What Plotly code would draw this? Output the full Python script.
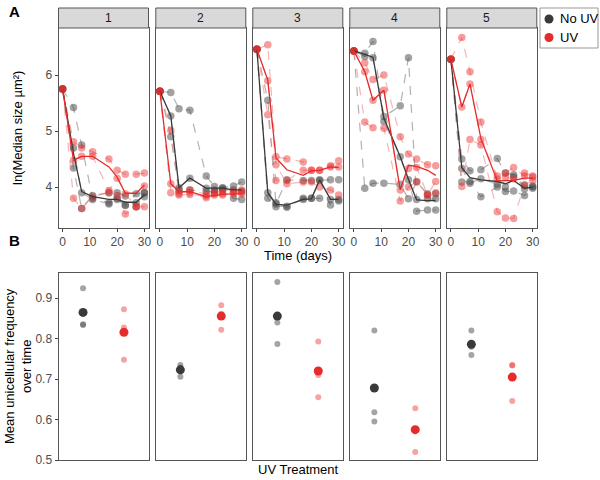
import plotly.graph_objects as go

W, H = 600, 480

days = [0, 4, 7, 11, 17, 20, 23, 27, 30]
panels = ["1", "2", "3", "4", "5"]

# ln(median size) per replicate, No UV
noUV_reps = [
    [[5.75, 5.42, 4.75, 3.80, 3.72, 3.80, 3.68, 3.88, 3.90],
     [5.75, 4.34, 3.62, 3.85, 3.90, 3.90, 3.84, 3.65, 3.83],
     [5.75, 4.70, 3.90, 3.78, 3.70, 3.78, 3.67, 3.72, 3.90]],
    [[5.71, 5.69, 5.40, 5.37, 4.20, 4.01, 3.99, 4.02, 4.09],
     [5.71, 5.27, 3.99, 4.16, 3.98, 3.95, 3.98, 3.80, 3.78],
     [5.71, 4.90, 3.95, 3.95, 3.92, 3.92, 3.95, 3.95, 3.93]],
    [[6.46, 5.55, 3.70, 4.13, 4.12, 4.12, 4.12, 4.13, 4.13],
     [6.46, 3.90, 3.72, 3.64, 3.80, 3.80, 4.13, 3.68, 3.75],
     [6.46, 3.80, 3.65, 3.66, 3.78, 3.80, 3.80, 3.78, 3.78]],
    [[6.43, 6.39, 6.60, 5.26, 5.45, 6.31, 3.78, 3.79, 3.79],
     [6.43, 6.33, 6.31, 5.17, 4.54, 4.13, 3.57, 3.59, 3.59],
     [6.43, 3.98, 4.07, 4.07, 4.05, 3.79, 4.09, 3.88, 3.88]],
    [[6.28, 4.50, 4.29, 4.31, 4.51, 4.25, 4.22, 3.97, 4.00],
     [6.28, 4.33, 4.07, 4.15, 4.05, 3.92, 3.93, 3.85, 4.02],
     [6.28, 4.09, 4.10, 3.83, 4.00, 4.00, 4.18, 4.03, 3.98]],
]
# ln(median size) per replicate, UV
uv_reps = [
    [[5.75, 4.81, 4.70, 4.63, 4.50, 4.30, 4.23, 4.23, 4.25],
     [5.75, 4.48, 4.55, 4.55, 3.94, 4.16, 3.88, 3.65, 4.02],
     [5.75, 3.80, 3.62, 3.83, 3.90, 3.85, 3.52, 3.65, 3.65]],
    [[5.71, 5.01, 3.88, 3.95, 3.87, 3.90, 3.93, 3.91, 3.95],
     [5.71, 4.06, 3.92, 3.90, 3.81, 3.86, 3.88, 3.88, 3.91],
     [5.71, 3.90, 3.86, 3.87, 3.84, 3.88, 3.86, 3.92, 3.88]],
    [[6.46, 6.54, 4.54, 4.50, 4.45, 4.30, 4.30, 4.38, 4.47],
     [6.46, 5.29, 4.12, 4.12, 4.30, 4.30, 4.30, 4.36, 4.36],
     [6.46, 5.90, 4.40, 4.06, 4.09, 4.09, 4.00, 3.95, 3.86]],
    [[6.43, 6.22, 5.92, 6.00, 4.90, 4.59, 4.50, 4.40, 4.38],
     [6.43, 6.06, 5.55, 5.73, 3.95, 4.33, 4.35, 3.86, 3.90],
     [6.43, 5.16, 5.06, 5.05, 3.75, 4.00, 4.10, 3.86, 4.10]],
    [[6.28, 6.67, 6.06, 5.16, 4.14, 4.25, 4.35, 4.20, 4.18],
     [6.28, 5.43, 5.84, 4.85, 4.20, 4.18, 4.15, 4.25, 4.20],
     [6.28, 4.01, 4.85, 4.75, 3.56, 3.45, 3.44, 4.04, 4.12]],
]
noUV_mean = [
    [5.75, 4.60, 3.92, 3.83, 3.78, 3.78, 3.73, 3.73, 3.86],
    [5.71, 5.27, 3.99, 4.16, 3.98, 3.98, 3.98, 3.95, 3.95],
    [6.46, 3.90, 3.69, 3.68, 3.78, 3.79, 4.13, 3.78, 3.78],
    [6.43, 6.36, 6.32, 5.23, 4.54, 4.14, 3.77, 3.76, 3.76],
    [6.28, 4.35, 4.17, 4.13, 4.10, 4.06, 4.12, 3.98, 4.00],
]
uv_mean = [
    [5.75, 4.48, 4.55, 4.55, 4.36, 4.18, 3.89, 3.89, 4.04],
    [5.71, 4.06, 3.92, 3.92, 3.83, 3.85, 3.87, 3.88, 3.88],
    [6.46, 5.91, 4.52, 4.31, 4.21, 4.29, 4.30, 4.36, 4.35],
    [6.43, 6.06, 5.55, 5.73, 3.95, 4.39, 4.37, 4.30, 4.21],
    [6.28, 5.43, 5.84, 4.87, 4.11, 4.11, 4.12, 4.16, 4.16],
]

# Panel B: mean unicellular frequency over time
treatments = ["No UV", "UV"]
freq_noUV_reps = [[0.925, 0.836, 0.834], [0.735, 0.728, 0.706], [0.940, 0.840, 0.787],
                  [0.820, 0.618, 0.595], [0.820, 0.780, 0.760]]
freq_uv_reps = [[0.873, 0.828, 0.748], [0.883, 0.861, 0.822], [0.793, 0.710, 0.655],
                [0.628, 0.577, 0.520], [0.735, 0.734, 0.646]]
freq_noUV_mean = [0.865, 0.723, 0.856, 0.678, 0.786]
freq_uv_mean = [0.816, 0.856, 0.720, 0.575, 0.705]

FONT = "Liberation Sans, Arial, sans-serif"
GREY_PT = "rgba(70,70,70,0.5)"
GREY_LN = "rgba(165,165,165,0.85)"
RED_PT = "rgba(236,40,40,0.45)"
RED_LN = "rgba(240,120,120,0.55)"
GREY_MEAN = "#3a3a3a"
RED_MEAN = "#e52b2b"


def px(x):
    return x / W


def py(y):
    return 1 - y / H


lefts = [58.5, 155.8, 252.8, 349.8, 446.8]
pw = 90
A_top, A_bot = 28, 228
B_top, B_bot = 273, 460

fig = go.Figure()
layout = {}

for i in range(5):
    n = i + 1
    xa = "x" if n == 1 else f"x{n}"
    ya = "y" if n == 1 else f"y{n}"
    # replicates
    for reps, pc, lc in [(noUV_reps[i], GREY_PT, GREY_LN), (uv_reps[i], RED_PT, RED_LN)]:
        for r in reps:
            fig.add_trace(go.Scatter(
                x=days, y=r, xaxis=xa, yaxis=ya, mode="lines+markers",
                line=dict(color=lc, width=1.2, dash="dash"),
                marker=dict(color=pc, size=7.5, line=dict(width=0)),
                showlegend=False, hoverinfo="skip"))
    for m, c in [(noUV_mean[i], GREY_MEAN), (uv_mean[i], RED_MEAN)]:
        fig.add_trace(go.Scatter(
            x=days, y=m, xaxis=xa, yaxis=ya, mode="lines",
            line=dict(color=c, width=1.3), showlegend=False, hoverinfo="skip"))

    dom_x = [px(lefts[i]), px(lefts[i] + pw)]
    layout["xaxis" if n == 1 else f"xaxis{n}"] = dict(
        domain=dom_x, anchor=ya, range=[-1.5, 31.5], tickvals=[0, 10, 20, 30],
        ticks="outside", ticklen=3, tickcolor="#444", showgrid=False, zeroline=False,
        showline=True, mirror=True, linecolor="#555", linewidth=1, automargin=False,
        tickfont=dict(size=12, color="#4d4d4d", family=FONT))
    layout["yaxis" if n == 1 else f"yaxis{n}"] = dict(
        domain=[py(A_bot), py(A_top)], anchor=xa, range=[3.27, 6.84],
        tickvals=[4, 5, 6], ticks="outside" if n == 1 else "", ticklen=3, tickcolor="#444",
        showticklabels=(n == 1), showgrid=False, zeroline=False, automargin=False,
        showline=True, mirror=True, linecolor="#555", linewidth=1,
        tickfont=dict(size=12, color="#4d4d4d", family=FONT))

    # Panel B
    nb = n + 5
    xb = f"x{nb}"
    yb = f"y{nb}"
    fig.add_trace(go.Scatter(
        x=[1] * len(freq_noUV_reps[i]), y=freq_noUV_reps[i], xaxis=xb, yaxis=yb, mode="markers",
        marker=dict(color="rgba(90,90,90,0.55)", size=6, line=dict(width=0)),
        showlegend=False, hoverinfo="skip"))
    fig.add_trace(go.Scatter(
        x=[2] * len(freq_uv_reps[i]), y=freq_uv_reps[i], xaxis=xb, yaxis=yb, mode="markers",
        marker=dict(color="rgba(236,50,50,0.45)", size=6, line=dict(width=0)),
        showlegend=False, hoverinfo="skip"))
    fig.add_trace(go.Scatter(
        x=[1, 2], y=[freq_noUV_mean[i], freq_uv_mean[i]], xaxis=xb, yaxis=yb, mode="markers",
        marker=dict(color=[GREY_MEAN, RED_MEAN], size=9, line=dict(width=0)),
        showlegend=False, hoverinfo="skip"))
    layout[f"xaxis{nb}"] = dict(
        domain=dom_x, anchor=yb, range=[0.4, 2.6], showticklabels=False, ticks="",
        showgrid=False, zeroline=False, showline=True, mirror=True, automargin=False,
        linecolor="#555", linewidth=1)
    layout[f"yaxis{nb}"] = dict(
        domain=[py(B_bot), py(B_top)], anchor=xb, range=[0.5, 0.9625],
        tickvals=[0.5, 0.6, 0.7, 0.8, 0.9], ticktext=["0.5", "0.6", "0.7", "0.8", "0.9"],
        ticks="outside" if n == 1 else "", ticklen=3, tickcolor="#444",
        showticklabels=(n == 1), showgrid=False, zeroline=False, automargin=False,
        showline=True, mirror=True, linecolor="#555", linewidth=1,
        tickfont=dict(size=12, color="#4d4d4d", family=FONT))

shapes = []
annotations = []
for i in range(5):
    shapes.append(dict(type="rect", xref="paper", yref="paper",
                       x0=px(lefts[i]), x1=px(lefts[i] + pw), y0=py(A_top), y1=py(8),
                       fillcolor="#d9d9d9", line=dict(color="#555", width=1)))
    annotations.append(dict(text=panels[i], xref="paper", yref="paper",
                            x=px(lefts[i] + pw / 2), y=py(18), showarrow=False,
                            yanchor="middle",
                            font=dict(size=12, color="#1a1a1a", family=FONT)))

# Legend (drawn in page coordinates)
shapes.append(dict(type="rect", xref="paper", yref="paper", x0=px(540), x1=px(598),
                   y0=py(48), y1=py(8), fillcolor="white", line=dict(color="#999", width=1)))
for name, col, yc in [(treatments[0], GREY_MEAN, 19), (treatments[1], RED_MEAN, 37.5)]:
    shapes.append(dict(type="circle", xref="paper", yref="paper",
                       x0=px(544.5), x1=px(553.5), y0=py(yc + 4.5), y1=py(yc - 4.5),
                       fillcolor=col, line=dict(width=0)))
    annotations.append(dict(text=name, xref="paper", yref="paper", x=px(558), y=py(yc),
                            xanchor="left", yanchor="middle", showarrow=False,
                            font=dict(size=13, color="black", family=FONT)))

annotations += [
    dict(text="<b>A</b>", xref="paper", yref="paper", x=px(7), y=py(11), showarrow=False,
         xanchor="left", yanchor="middle", font=dict(size=15, color="black", family=FONT)),
    dict(text="<b>B</b>", xref="paper", yref="paper", x=px(7), y=py(240), showarrow=False,
         xanchor="left", yanchor="middle", font=dict(size=15, color="black", family=FONT)),
    dict(text="Time (days)", xref="paper", yref="paper", x=px(298), y=py(255), showarrow=False,
         yanchor="middle", font=dict(size=13, color="black", family=FONT)),
    dict(text="UV Treatment", xref="paper", yref="paper", x=px(298), y=py(469), showarrow=False,
         yanchor="middle", font=dict(size=13, color="black", family=FONT)),
    dict(text="ln(Median size µm²)", xref="paper", yref="paper", x=px(18), y=py(128),
         xanchor="center", yanchor="middle",
         showarrow=False, textangle=-90, font=dict(size=13, color="black", family=FONT)),
    dict(text="Mean unicellular frequency<br>over time", xref="paper", yref="paper",
         x=px(18), y=py(366), xanchor="center", yanchor="middle", showarrow=False, textangle=-90,
         font=dict(size=13, color="black", family=FONT)),
]

fig.update_layout(
    width=W, height=H, margin=dict(l=0, r=0, t=0, b=0, autoexpand=False),
    paper_bgcolor="white", plot_bgcolor="white", showlegend=False,
    shapes=shapes, annotations=annotations,
    **layout)

fig.write_html(
    "out.html",
    config={"displayModeBar": False},
    post_script="document.body.style.margin='0';document.body.style.padding='0';"
                "document.body.style.overflow='hidden';")
